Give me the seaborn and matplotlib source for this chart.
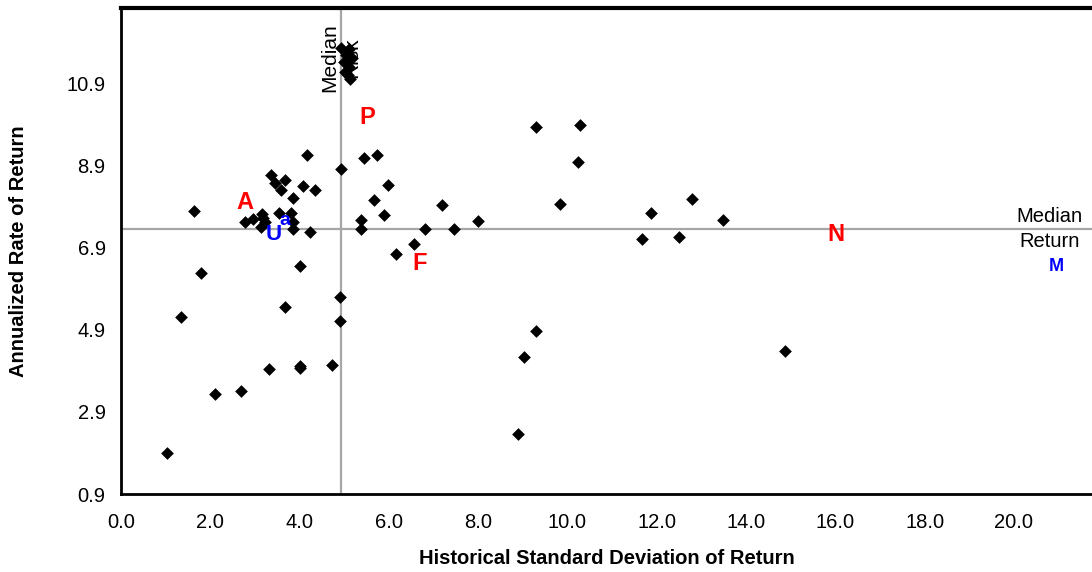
import numpy as np
import pandas as pd
import matplotlib
matplotlib.use("Agg")
import matplotlib.pyplot as plt
import seaborn as sns

# risk (std dev) and return for each fund
risk = [4.16, 4.92, 3.35, 3.67, 3.45, 4.07, 3.58, 4.34, 3.85, 1.64,
        3.16, 3.54, 3.81, 2.78, 2.96, 3.23, 3.14, 3.19, 3.86, 3.85,
        4.24, 4.02, 1.79, 1.34, 3.67, 4.91, 4.91, 2.11, 2.69, 3.31,
        4.02, 4.73, 1.04, 5.45, 5.73, 5.99, 5.67, 5.90, 7.18, 5.37,
        5.37, 6.82, 7.46, 8.00, 6.57, 6.17, 9.29, 10.28, 10.23, 9.83,
        11.88, 12.78, 11.66, 12.50, 13.49, 9.29, 9.02, 8.89, 14.87, 4.02,
        4.92, 5.10, 5.05, 5.17, 5.00, 5.10, 5.02, 5.08, 5.12]
ret = [9.14, 8.80, 8.66, 8.55, 8.47, 8.39, 8.30, 8.31, 8.11, 7.78,
       7.72, 7.75, 7.75, 7.51, 7.59, 7.52, 7.39, 7.61, 7.53, 7.34,
       7.27, 6.44, 6.27, 5.22, 5.45, 5.70, 5.10, 3.34, 3.41, 3.94,
       4.02, 4.03, 1.91, 9.09, 9.15, 8.41, 8.06, 7.68, 7.93, 7.57,
       7.35, 7.35, 7.35, 7.54, 6.99, 6.75, 9.83, 9.87, 8.99, 7.97,
       7.73, 8.07, 7.10, 7.15, 7.58, 4.87, 4.24, 2.35, 4.37, 3.96,
       11.76, 11.72, 11.58, 11.52, 11.42, 11.30, 11.18, 11.10, 11.00]

# labelled funds
lab_text = ["A", "P", "U", "a", "F", "N", "M"]
lab_x = [2.78, 5.51, 3.43, 3.67, 6.70, 16.01, 20.96]
lab_y = [7.99, 10.06, 7.21, 7.55, 6.52, 7.21, 6.43]
lab_color = ["red", "red", "blue", "blue", "red", "red", "blue"]
lab_size = [17, 17, 16, 14, 17, 17, 13]

median_risk = 4.92
median_return = 7.35

xticks = [0, 2, 4, 6, 8, 10, 12, 14, 16, 18, 20]
yticks = [0.9, 2.9, 4.9, 6.9, 8.9, 10.9]

df = pd.DataFrame({"risk": risk, "ret": ret})

sns.set_style("white")
plt.rcParams["font.family"] = ["Liberation Sans", "DejaVu Sans"]
plt.rcParams["text.color"] = "black"
plt.rcParams["axes.labelcolor"] = "black"
plt.rcParams["xtick.color"] = "black"
plt.rcParams["ytick.color"] = "black"

fig = plt.figure(figsize=(10.92, 5.72), dpi=100)
ax = fig.add_axes([121 / 1092, 78 / 572, 1 - 121 / 1092, 486 / 572])

ax.axvline(median_risk, color="#a6a6a6", lw=1.6, zorder=1)
ax.axhline(median_return, color="#a6a6a6", lw=1.6, zorder=1)

sns.scatterplot(data=df, x="risk", y="ret", marker="D", s=42, color="black",
                linewidth=0, ax=ax, zorder=3)

for t, x, y, c, fs in zip(lab_text, lab_x, lab_y, lab_color, lab_size):
    ax.text(x, y, t, color=c, fontsize=fs, fontweight="bold",
            ha="center", va="center", zorder=4)

ax.text(median_risk, 11.52, "Median\nRisk", rotation=90, ha="center",
        va="center", fontsize=15, linespacing=1.25, zorder=4)
ax.text(20.8, median_return, "Median\nReturn", ha="center", va="center",
        fontsize=14.5, linespacing=1.45, zorder=4)

ax.set_xlim(0, 21.75)
ax.set_ylim(0.9, 12.73)
ax.set_xticks(xticks)
ax.set_xticklabels([f"{v:.1f}" for v in xticks])
ax.set_yticks(yticks)
ax.set_yticklabels([f"{v:.1f}" for v in yticks])
ax.tick_params(direction="in", length=7, width=1.5, labelsize=14.5,
               colors="black")
ax.tick_params(axis="x", pad=14)
ax.tick_params(axis="y", pad=11)

for side in ["left", "bottom", "top"]:
    ax.spines[side].set_color("black")
    ax.spines[side].set_linewidth(2)
ax.spines["top"].set_linewidth(3)
ax.spines["right"].set_visible(False)

ax.set_xlabel("Historical Standard Deviation of Return", fontsize=14.5,
              fontweight="bold", labelpad=12)
ax.set_ylabel("Annualized Rate of Return", fontsize=14.5, fontweight="bold",
              labelpad=28)

fig.savefig("out.png", dpi=100)
